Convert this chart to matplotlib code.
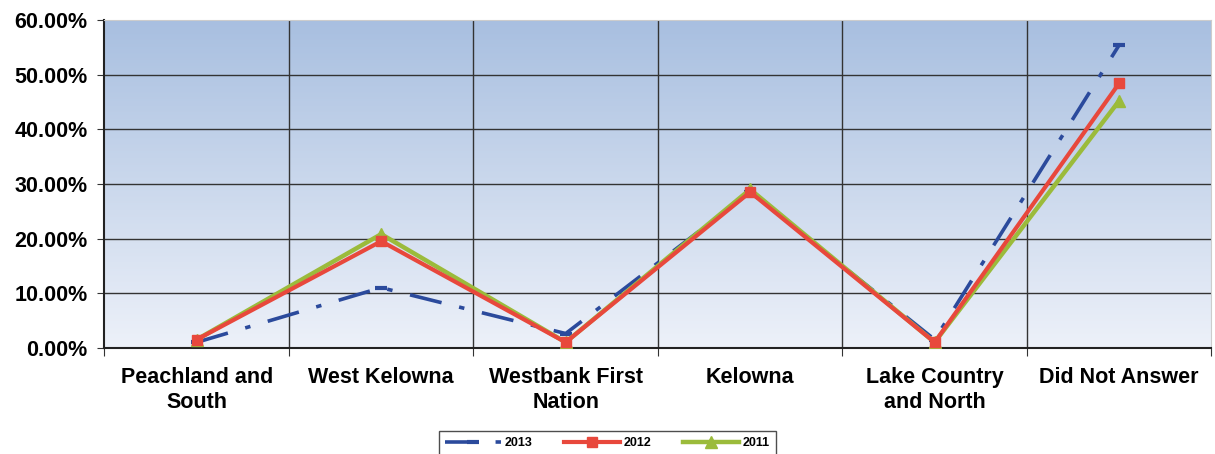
import numpy as np
import matplotlib.pyplot as plt
from matplotlib.colors import LinearSegmentedColormap
from matplotlib.ticker import FuncFormatter

plt.rcParams['font.family'] = ['Liberation Sans', 'DejaVu Sans']

regions = ['Peachland and\nSouth', 'West Kelowna', 'Westbank First\nNation',
           'Kelowna', 'Lake Country\nand North', 'Did Not Answer']
pct_2013 = [1.0, 11.0, 2.6, 28.5, 1.5, 55.4]
pct_2012 = [1.5, 19.5, 1.0, 28.5, 1.0, 48.4]
pct_2011 = [1.5, 20.8, 1.0, 29.0, 1.0, 45.2]


def main():
    fig = plt.figure(figsize=(12.15, 4.54), dpi=100)
    ax = fig.add_axes([0.086, 0.234, 0.911, 0.722])

    x = np.arange(len(regions))
    ax.set_xlim(-0.5, len(regions) - 0.5)
    ax.set_ylim(0, 60)

    # blue gradient fill behind the plot area
    cmap = LinearSegmentedColormap.from_list('bg', ['#edf1f9', '#a8bfe0'])
    grad = np.linspace(0, 1, 256).reshape(-1, 1)
    ax.imshow(grad, extent=[-0.5, len(regions) - 0.5, 0, 60], origin='lower',
              aspect='auto', cmap=cmap, zorder=0)

    for y in range(10, 60, 10):
        ax.axhline(y, color='#333333', lw=1.0, zorder=1)
    for b in np.arange(0.5, len(regions) - 0.5, 1):
        ax.axvline(b, color='#333333', lw=1.0, zorder=1)

    ax.plot(x, pct_2011, color='#9bbb3b', lw=3.2, marker='^', ms=9,
            label='2011', zorder=3)
    ax.plot(x, pct_2012, color='#e8483c', lw=3.0, marker='s', ms=7,
            label='2012', zorder=4)
    ax.plot(x, pct_2013, color='#2b4a9c', lw=2.6, dashes=[9, 5, 1.5, 5],
            marker='_', ms=9, mew=3, label='2013', zorder=2)

    ax.yaxis.set_major_formatter(FuncFormatter(lambda v, p: f'{v:.2f}%'))
    ax.set_yticks(range(0, 61, 10))
    ax.set_xticks(np.arange(-0.5, len(regions) + 0.5, 1))
    ax.set_xticklabels([])
    ax.set_xticks(x, minor=True)
    ax.set_xticklabels(regions, minor=True, fontsize=15.5, fontweight='bold',
                       linespacing=1.25)
    ax.tick_params(axis='x', which='minor', length=0, pad=14)
    ax.tick_params(axis='x', which='major', length=6, color='#333333')
    ax.tick_params(axis='y', length=5, color='#333333', labelsize=15.5, pad=7)
    for lbl in ax.get_yticklabels():
        lbl.set_fontweight('bold')

    for side in ['left', 'bottom']:
        ax.spines[side].set_color('#222222')
        ax.spines[side].set_linewidth(1.5)
    for side in ['top', 'right']:
        ax.spines[side].set_color('#cccccc')

    handles, labels = ax.get_legend_handles_labels()
    order = [2, 1, 0]
    leg = fig.legend([handles[i] for i in order], [labels[i] for i in order],
                     loc='lower center', bbox_to_anchor=(0.5, -0.015), ncol=3,
                     frameon=True, fancybox=False, edgecolor='#222222',
                     prop={'size': 9, 'weight': 'bold'}, handlelength=4.5,
                     handletextpad=0.3, columnspacing=2.5, borderpad=0.45)
    leg.get_frame().set_linewidth(1.0)

    fig.savefig('out.png', dpi=100)


if __name__ == '__main__':
    main()
